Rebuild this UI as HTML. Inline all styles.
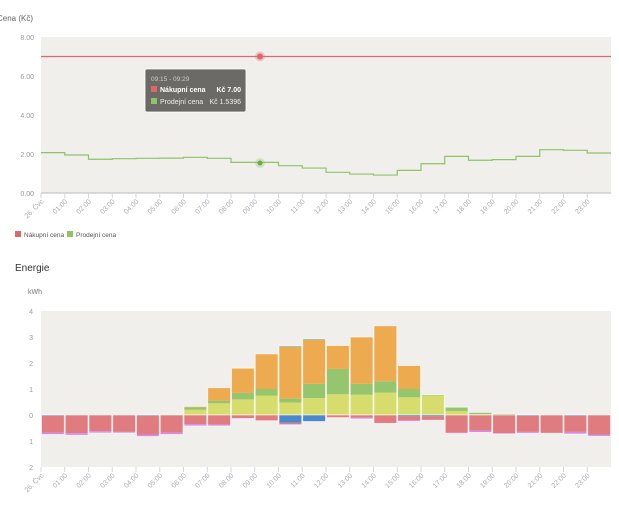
<!DOCTYPE html>
<html><head><meta charset="utf-8"><style>
body{margin:0;background:#fff;font-family:"Liberation Sans",sans-serif;}
</style></head><body>
<svg id="s" width="619" height="500" xmlns="http://www.w3.org/2000/svg" font-family="Liberation Sans, sans-serif"></svg>
<script>
const s=document.getElementById('s');let h='';
const X0=41,W=23.75;
// top chart
h+='<text x="-3" y="21" font-size="8" fill="#666">Cena (Kč)</text>';
h+='<rect x="41" y="37" width="570" height="156" fill="#f0efec"/>';
[[8,37],[6,76],[4,115],[2,154],[0,193]].forEach(([v,y])=>{h+=`<text x="34" y="${y+3}" font-size="7" fill="#999" text-anchor="end">${v.toFixed(2)}</text>`;});
h+='<line x1="41" y1="193" x2="611" y2="193" stroke="#bbb"/>';
const labels=['26. Čvc','01:00','02:00','03:00','04:00','05:00','06:00','07:00','08:00','09:00','10:00','11:00','12:00','13:00','14:00','15:00','16:00','17:00','18:00','19:00','20:00','21:00','22:00','23:00'];
function xl(ybase){let r='';for(let i=0;i<24;i++){const x=X0+i*W;r+=`<line x1="${x}" y1="${ybase}" x2="${x}" y2="${ybase+5}" stroke="#cdd6e8"/>`;r+=`<text transform="translate(${x+3},${ybase+9}) rotate(-45)" font-size="7" fill="#aaa" text-anchor="end">${labels[i]}</text>`;}return r;}
h+=xl(193);
h+='<line x1="41" y1="56.5" x2="611" y2="56.5" stroke="#e0666e" stroke-width="1.3"/>';
const g=[2.07,1.95,1.73,1.76,1.78,1.79,1.83,1.78,1.57,1.57,1.40,1.28,1.06,0.97,0.92,1.16,1.5,1.88,1.68,1.71,1.88,2.22,2.19,2.05];
let p='';g.forEach((v,i)=>{const y=193-v*19.5;p+=(i?'L':'M')+(X0+i*W)+' '+y+' L'+(X0+(i+1)*W)+' '+y+' ';});
h+=`<path d="${p}" fill="none" stroke="#8cc466" stroke-width="1.2"/>`;
h+='<circle cx="260" cy="56.5" r="5" fill="#e0666e" opacity=".3"/><circle cx="260" cy="56.5" r="3" fill="#e0666e"/>';
h+='<circle cx="260" cy="163" r="5" fill="#8cc466" opacity=".3"/><circle cx="260" cy="163" r="2.5" fill="#6aa84f"/>';
h+='<rect x="145" y="69" width="101" height="43" rx="2" fill="#6b6a66" stroke="#fff" stroke-width=".8"/>';
h+='<text x="151" y="81" font-size="6.5" fill="#ccc">09:15 - 09:29</text>';
h+='<rect x="151" y="86" width="6" height="6" fill="#e0666e"/><text x="160" y="92" font-size="7" fill="#fff" font-weight="bold">Nákupní cena</text><text x="241" y="92" font-size="7" fill="#fff" font-weight="bold" text-anchor="end">Kč 7.00</text>';
h+='<rect x="151" y="98" width="6" height="6" fill="#8cc466"/><text x="160" y="104" font-size="7" fill="#eee">Prodejní cena</text><text x="241" y="104" font-size="7" fill="#eee" text-anchor="end">Kč 1.5396</text>';
h+='<rect x="15" y="231" width="6" height="6" fill="#e0666e"/><text x="24" y="237" font-size="6.5" fill="#555">Nákupní cena</text>';
h+='<rect x="67" y="231" width="6" height="6" fill="#8cc466"/><text x="76" y="237" font-size="6.5" fill="#555">Prodejní cena</text>';
// bottom
h+='<text x="15" y="271" font-size="10" fill="#333">Energie</text>';
h+='<text x="28" y="294" font-size="7" fill="#777">kWh</text>';
h+='<rect x="41" y="311" width="570" height="156" fill="#f0efec"/>';
[4,3,2,1,0,1,2].forEach((v,i)=>{h+=`<text x="33" y="${311+i*26+3}" font-size="7" fill="#999" text-anchor="end">${v}</text>`;});
h+=xl(467);
const Z=415,U=26;
const C={y:'#d6dd6c',g:'#95c56c',o:'#eeaa4f',b:'#4d88cc',r:'#e07b80',p:'#d28be8',t:'#4db3dd'};
const pos=[[0,0,0],[0,0,0],[0,0,0],[0,0,0],[0,0,0],[.03,0,0],[.2,.1,.03],[.45,.1,.5],[.6,.25,.95],[.75,.25,1.35],[.48,.15,2.0,.03],[.65,.55,1.7,.03],[.8,.97,.9],[.78,.42,1.8],[.86,.44,2.13],[.68,.32,.9],[.75,.03,0],[.15,.15,0],[.03,.07,0],[0,.05,0],[0,0,0],[0,0,0],[0,0,0],[0,0,0]];
const neg=[[.03,.65,.07],[0,.7,.08],[0,.62,.07],[0,.65,.04],[.03,.72,.08],[0,.68,.07],[0,.35,.07],[0,.37,.05],[0,.12,.02],[0,.22,0],[.3,.05,.03],[.25,0,0],[0,.1,0],[0,.1,.05],[0,.32,0],[.05,.15,.05],[.05,.15,0],[0,.68,.03],[0,.6,.07],[0,.7,.03],[.03,.62,.05],[0,.7,0],[.03,.62,.08],[0,.75,.07]];
for(let i=0;i<24;i++){const x=X0+i*W+.5,w=W-1;let y=Z;
 const pc=[C.y,C.g,C.o,C.t];pos[i].forEach((v,k)=>{if(v>0){h+=`<rect x="${x}" y="${y-v*U}" width="${w}" height="${v*U}" fill="${pc[k]}"/>`;y-=v*U;}});
 if(y<Z)h+=`<rect x="${x}" y="${y}" width="${w}" height="${Z-y}" fill="none" stroke="#fff" stroke-opacity=".7" stroke-width=".8"/>`;
 y=Z;const nc=[C.b,C.r,C.p];neg[i].forEach((v,k)=>{if(v>0){h+=`<rect x="${x}" y="${y}" width="${w}" height="${v*U}" fill="${nc[k]}"/>`;y+=v*U;}});
 if(y>Z)h+=`<rect x="${x}" y="${Z}" width="${w}" height="${y-Z}" fill="none" stroke="#fff" stroke-opacity=".7" stroke-width=".8"/>`;
}
s.innerHTML=h;
</script>
</body></html>
